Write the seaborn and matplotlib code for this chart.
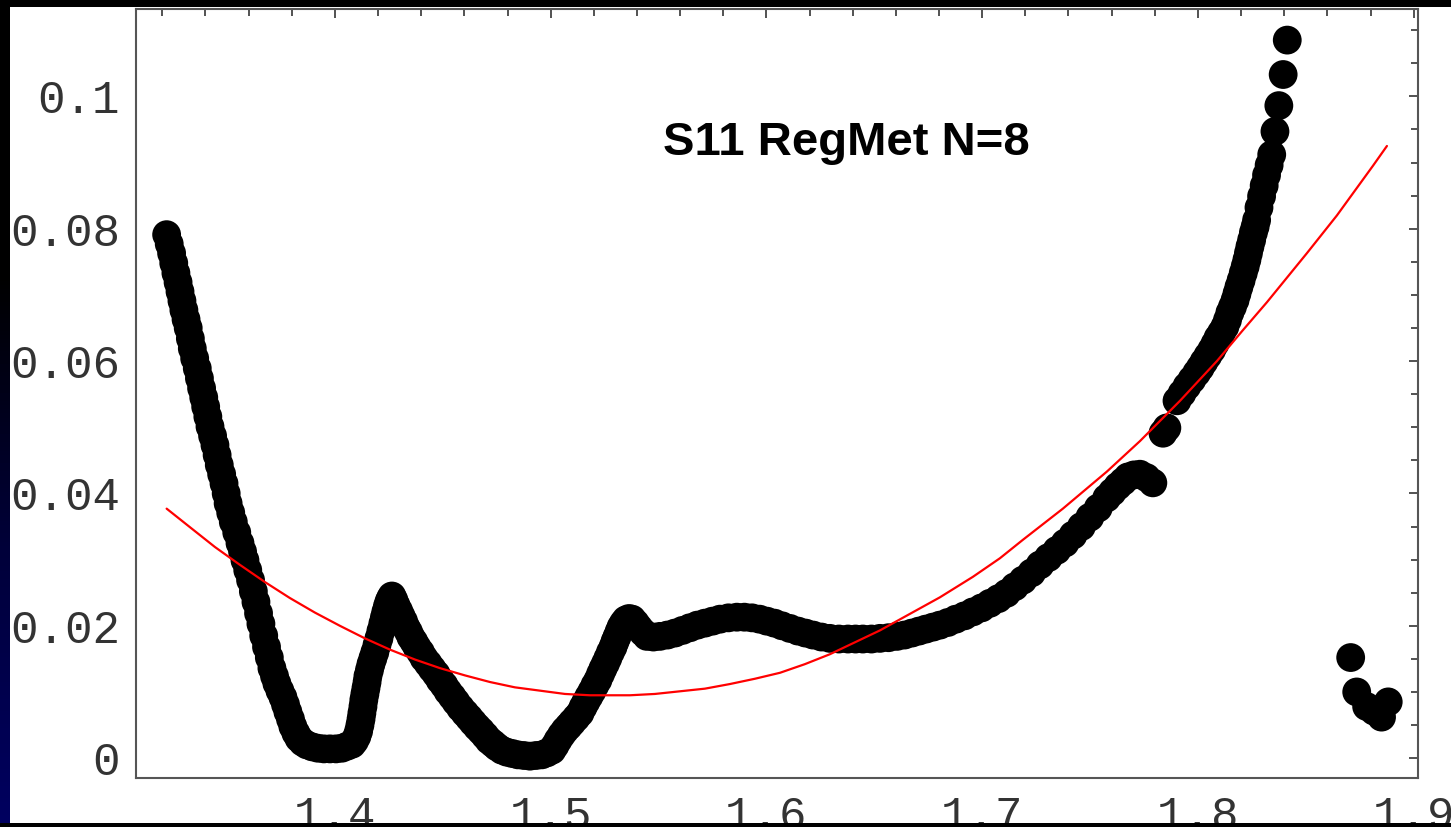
import matplotlib
matplotlib.use("Agg")
import numpy as np
import matplotlib.pyplot as plt
from matplotlib.patches import Rectangle
from matplotlib.colors import LinearSegmentedColormap
from matplotlib.ticker import MultipleLocator, FixedLocator, FixedFormatter
import seaborn as sns

# measured S11 points (black dots), read off the picture segment by segment
# left descent into first trough
seg_a_x = [1.3220, 1.3232, 1.3243, 1.3253, 1.3263, 1.3273, 1.3282, 1.3291, 1.3300, 1.3310,
           1.3320, 1.3330, 1.3339, 1.3350, 1.3362, 1.3372, 1.3382, 1.3392, 1.3401, 1.3411,
           1.3421, 1.3433, 1.3444, 1.3454, 1.3464, 1.3475, 1.3486, 1.3496, 1.3505, 1.3517,
           1.3529, 1.3545, 1.3560, 1.3572, 1.3583, 1.3596, 1.3609, 1.3622, 1.3634, 1.3646,
           1.3657, 1.3670, 1.3683, 1.3696, 1.3708, 1.3720, 1.3731, 1.3745, 1.3759, 1.3771,
           1.3782, 1.3794, 1.3805, 1.3819, 1.3833, 1.3851, 1.3870, 1.3895, 1.3921, 1.3949,
           1.3977, 1.4005, 1.4032]
seg_a_y = [0.0791, 0.0777, 0.0763, 0.0748, 0.0733, 0.0719, 0.0705, 0.0691, 0.0677, 0.0663,
           0.0650, 0.0634, 0.0619, 0.0604, 0.0589, 0.0574, 0.0559, 0.0545, 0.0531, 0.0516,
           0.0501, 0.0487, 0.0473, 0.0458, 0.0443, 0.0429, 0.0415, 0.0400, 0.0385, 0.0371,
           0.0357, 0.0341, 0.0325, 0.0312, 0.0299, 0.0284, 0.0269, 0.0252, 0.0236, 0.0219,
           0.0203, 0.0185, 0.0168, 0.0152, 0.0136, 0.0124, 0.0113, 0.0102, 0.0092, 0.0081,
           0.0070, 0.0059, 0.0048, 0.0038, 0.0030, 0.0024, 0.0020, 0.0017, 0.0015, 0.0014,
           0.0014, 0.0014, 0.0015]

# first peak and second trough
seg_b_x = [1.4056, 1.4079, 1.4091, 1.4102, 1.4110, 1.4116, 1.4121, 1.4125, 1.4130, 1.4134,
           1.4139, 1.4144, 1.4149, 1.4153, 1.4160, 1.4167, 1.4176, 1.4185, 1.4195, 1.4204,
           1.4213, 1.4222, 1.4229, 1.4236, 1.4243, 1.4250, 1.4257, 1.4264, 1.4273, 1.4283,
           1.4295, 1.4306, 1.4318, 1.4329, 1.4341, 1.4352, 1.4366, 1.4380, 1.4397, 1.4413,
           1.4432, 1.4450, 1.4469, 1.4487, 1.4506, 1.4524, 1.4543, 1.4561, 1.4582, 1.4603,
           1.4622, 1.4640, 1.4659, 1.4677, 1.4696, 1.4714, 1.4733, 1.4751, 1.4774, 1.4797,
           1.4822, 1.4848, 1.4876, 1.4904, 1.4932, 1.4959, 1.4983, 1.5006]
seg_b_y = [0.0018, 0.0021, 0.0026, 0.0033, 0.0041, 0.0050, 0.0059, 0.0068, 0.0078, 0.0088,
           0.0097, 0.0106, 0.0115, 0.0124, 0.0133, 0.0142, 0.0151, 0.0160, 0.0171, 0.0181,
           0.0192, 0.0203, 0.0212, 0.0221, 0.0229, 0.0236, 0.0241, 0.0245, 0.0239, 0.0231,
           0.0223, 0.0215, 0.0207, 0.0198, 0.0191, 0.0183, 0.0176, 0.0168, 0.0160, 0.0151,
           0.0143, 0.0135, 0.0127, 0.0118, 0.0110, 0.0101, 0.0093, 0.0085, 0.0076, 0.0068,
           0.0061, 0.0054, 0.0047, 0.0041, 0.0034, 0.0027, 0.0022, 0.0017, 0.0012, 0.0009,
           0.0007, 0.0005, 0.0004, 0.0003, 0.0004, 0.0005, 0.0008, 0.0012]

# second bump, plateau and rise to the hook near 1.78
seg_c_x = [1.5020, 1.5034, 1.5050, 1.5066, 1.5083, 1.5099, 1.5118, 1.5136, 1.5150, 1.5163,
           1.5177, 1.5191, 1.5205, 1.5219, 1.5231, 1.5242, 1.5254, 1.5265, 1.5277, 1.5289,
           1.5298, 1.5307, 1.5317, 1.5326, 1.5337, 1.5349, 1.5363, 1.5377, 1.5393, 1.5409,
           1.5428, 1.5446, 1.5476, 1.5506, 1.5541, 1.5576, 1.5611, 1.5645, 1.5680, 1.5715,
           1.5750, 1.5785, 1.5824, 1.5863, 1.5898, 1.5933, 1.5968, 1.6002, 1.6037, 1.6072,
           1.6109, 1.6146, 1.6181, 1.6216, 1.6255, 1.6294, 1.6336, 1.6378, 1.6413, 1.6447,
           1.6487, 1.6526, 1.6566, 1.6605, 1.6640, 1.6674, 1.6707, 1.6739, 1.6772, 1.6804,
           1.6841, 1.6878, 1.6918, 1.6957, 1.6997, 1.7036, 1.7075, 1.7113, 1.7151, 1.7189,
           1.7229, 1.7268, 1.7307, 1.7346, 1.7384, 1.7421, 1.7460, 1.7499, 1.7538, 1.7577,
           1.7603, 1.7629, 1.7653, 1.7676, 1.7704, 1.7731, 1.7761, 1.7791]
seg_c_y = [0.0019, 0.0027, 0.0035, 0.0042, 0.0048, 0.0054, 0.0061, 0.0068, 0.0077, 0.0085,
           0.0093, 0.0101, 0.0110, 0.0118, 0.0127, 0.0135, 0.0143, 0.0151, 0.0160, 0.0168,
           0.0176, 0.0183, 0.0191, 0.0198, 0.0204, 0.0209, 0.0211, 0.0210, 0.0204, 0.0197,
           0.0190, 0.0184, 0.0183, 0.0184, 0.0186, 0.0189, 0.0193, 0.0197, 0.0201, 0.0204,
           0.0207, 0.0210, 0.0212, 0.0213, 0.0213, 0.0212, 0.0210, 0.0207, 0.0204, 0.0200,
           0.0196, 0.0192, 0.0189, 0.0186, 0.0183, 0.0181, 0.0180, 0.0180, 0.0180, 0.0180,
           0.0180, 0.0181, 0.0182, 0.0184, 0.0186, 0.0189, 0.0192, 0.0195, 0.0198, 0.0201,
           0.0205, 0.0210, 0.0215, 0.0221, 0.0227, 0.0234, 0.0241, 0.0249, 0.0259, 0.0269,
           0.0280, 0.0292, 0.0303, 0.0314, 0.0325, 0.0337, 0.0350, 0.0364, 0.0378, 0.0393,
           0.0402, 0.0411, 0.0418, 0.0425, 0.0428, 0.0429, 0.0424, 0.0416]

# steep upper branch
seg_d_x = [1.7838, 1.7856, 1.7903, 1.7926, 1.7949, 1.7972, 1.7994, 1.8011, 1.8028,
           1.8046, 1.8064, 1.8079, 1.8093, 1.8109, 1.8125, 1.8137, 1.8148, 1.8160, 1.8172,
           1.8181, 1.8190, 1.8200, 1.8210, 1.8219, 1.8227, 1.8234, 1.8241, 1.8249, 1.8257,
           1.8265, 1.8272, 1.8283, 1.8295, 1.8307, 1.8318, 1.8330, 1.8342, 1.8357, 1.8375,
           1.8395, 1.8414]
seg_d_y = [0.0491, 0.0499, 0.0540, 0.0551, 0.0562, 0.0572, 0.0582, 0.0590, 0.0599,
           0.0608, 0.0617, 0.0626, 0.0635, 0.0643, 0.0652, 0.0662, 0.0673, 0.0682, 0.0692,
           0.0702, 0.0712, 0.0722, 0.0733, 0.0743, 0.0753, 0.0763, 0.0773, 0.0783, 0.0794,
           0.0803, 0.0813, 0.0832, 0.0849, 0.0865, 0.0881, 0.0896, 0.0912, 0.0947, 0.0986,
           0.1033, 0.1085]

# isolated points at the far right
seg_e_x = [1.8708, 1.8736, 1.8782, 1.8816, 1.8851, 1.8882]
seg_e_y = [0.0152, 0.0100, 0.0078, 0.0071, 0.0062, 0.0085]

# fitted curve (red)
red_x = [1.3220, 1.3328, 1.3444, 1.3560, 1.3676, 1.3791, 1.3907, 1.4023, 1.4139, 1.4255,
         1.4371, 1.4487, 1.4603, 1.4719, 1.4834, 1.4950, 1.5066, 1.5182, 1.5367, 1.5483,
         1.5599, 1.5715, 1.5831, 1.5947, 1.6063, 1.6178, 1.6294, 1.6410, 1.6526, 1.6665,
         1.6804, 1.6957, 1.7082, 1.7189, 1.7374, 1.7578, 1.7731, 1.7917, 1.8088, 1.8204,
         1.8320, 1.8505, 1.8644, 1.8811, 1.8876]
red_y = [0.0377, 0.0349, 0.0319, 0.0292, 0.0266, 0.0242, 0.0220, 0.0200, 0.0181, 0.0164,
         0.0149, 0.0136, 0.0125, 0.0115, 0.0107, 0.0102, 0.0097, 0.0095, 0.0095, 0.0097,
         0.0101, 0.0105, 0.0112, 0.0120, 0.0129, 0.0142, 0.0157, 0.0175, 0.0193, 0.0218,
         0.0243, 0.0274, 0.0302, 0.0330, 0.0377, 0.0433, 0.0479, 0.0540, 0.0600, 0.0645,
         0.0689, 0.0763, 0.0820, 0.0895, 0.0925]

x_ticks = [1.4, 1.5, 1.6, 1.7, 1.8, 1.9]
x_labels = ["1.4", "1.5", "1.6", "1.7", "1.8", "1.9"]
y_ticks = [0.0, 0.02, 0.04, 0.06, 0.08, 0.1]
y_labels = ["0", "0.02", "0.04", "0.06", "0.08", "0.1"]
title = "S11 RegMet N=8"

black_x = seg_a_x + seg_b_x + seg_c_x + seg_d_x + seg_e_x
black_y = seg_a_y + seg_b_y + seg_c_y + seg_d_y + seg_e_y
assert len(black_x) == len(black_y)
assert len(red_x) == len(red_y)

sns.set_style("white")
plt.rcParams["font.family"] = ["Liberation Mono", "DejaVu Sans Mono"]

W, H = 1451, 827
fig = plt.figure(figsize=(W / 100, H / 100), dpi=100, facecolor="black")

# white slide panel
fig.patches.append(Rectangle((10 / W, 4 / H), 1 - 10 / W, 1 - 11 / H,
                             transform=fig.transFigure, facecolor="white",
                             edgecolor="none", zorder=-2))

# dark strip on the left with a navy tint
strip = fig.add_axes([0, 0, 10 / W, 1], zorder=-1)
cmap = LinearSegmentedColormap.from_list("strip", ["#000000", "#000000", "#00003a", "#000060"])
strip.imshow(np.linspace(0, 1, 200).reshape(-1, 1), aspect="auto", cmap=cmap)
strip.set_axis_off()

ax = fig.add_axes([136 / W, 1 - 778 / H, (1418 - 136) / W, (778 - 9) / H])
ax.set_facecolor("white")

sns.scatterplot(x=black_x, y=black_y, s=430, color="black", edgecolor="none",
                linewidth=0, ax=ax, zorder=2)
sns.lineplot(x=red_x, y=red_y, color="#ff0000", linewidth=1.6, sort=False,
             estimator=None, ax=ax, zorder=3)

ax.set_xlim(1.3078, 1.9020)
ax.set_ylim(-0.0030, 0.1132)

ax.xaxis.set_major_locator(FixedLocator(x_ticks))
ax.xaxis.set_major_formatter(FixedFormatter(x_labels))
ax.yaxis.set_major_locator(FixedLocator(y_ticks))
ax.yaxis.set_major_formatter(FixedFormatter(y_labels))
ax.xaxis.set_minor_locator(MultipleLocator(0.02))
ax.yaxis.set_minor_locator(MultipleLocator(0.005))

ax.tick_params(which="both", direction="in", top=True, right=True,
               color="#444444", width=1.3)
ax.tick_params(which="major", length=6.5)
ax.tick_params(which="minor", length=5)
ax.tick_params(axis="both", which="major", labelsize=33, labelcolor="#333333")
ax.tick_params(axis="y", pad=11.5)
ax.tick_params(axis="x", pad=12)

for sp in ax.spines.values():
    sp.set_color("#555555")
    sp.set_linewidth(1.5)

ax.text(1.552, 0.0912, title, fontfamily="Liberation Sans", fontweight="bold",
        fontsize=34, ha="left", va="baseline", color="black")

# black border bars over the slide edges
fig.patches.append(Rectangle((0, 0), 1, 4 / H, transform=fig.transFigure,
                             facecolor="black", edgecolor="none", zorder=10))
fig.patches.append(Rectangle((0, 1 - 7 / H), 1, 7 / H, transform=fig.transFigure,
                             facecolor="black", edgecolor="none", zorder=10))

fig.savefig("out.png", dpi=100, facecolor="black")
